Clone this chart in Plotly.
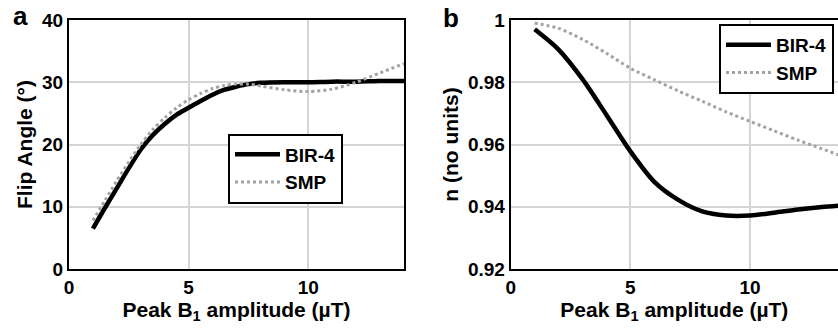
import plotly.graph_objects as go

# Panel a: flip angle vs peak B1
b1_a = [1, 1.5, 2, 2.5, 3, 3.5, 4, 4.5, 5, 5.5, 6, 6.5, 7, 7.5, 8, 9, 10, 11, 12, 13, 14]
bir4_flip = [6.5, 9.8, 13.0, 16.2, 19.2, 21.5, 23.3, 24.8, 25.9, 27.0, 28.0, 28.8, 29.3, 29.7, 29.9, 30.0, 30.0, 30.1, 30.1, 30.2, 30.2]
smp_flip = [7.8, 11.0, 14.2, 17.2, 20.0, 22.4, 24.3, 25.9, 27.2, 28.2, 29.0, 29.5, 29.7, 29.7, 29.4, 28.8, 28.5, 28.9, 30.0, 31.5, 33.0]

# Panel b: n vs peak B1
b1_b = [1, 2, 3, 4, 5, 6, 7, 8, 9, 10, 11, 12, 13, 14]
bir4_n = [0.997, 0.9905, 0.981, 0.9695, 0.9578, 0.948, 0.9422, 0.9385, 0.9372, 0.9372, 0.9381, 0.9391, 0.9399, 0.9405]
smp_n = [0.999, 0.9973, 0.9938, 0.9893, 0.9845, 0.9808, 0.9772, 0.9739, 0.9705, 0.9674, 0.9644, 0.9614, 0.9586, 0.9558]

series_names = ["BIR-4", "SMP"]
x_ticks = [0, 5, 10]
ya_ticks = [0, 10, 20, 30, 40]
yb_ticks = [0.92, 0.94, 0.96, 0.98, 1]

W, H = 838, 331
FONT = "Liberation Sans, Arial, sans-serif"

fig = go.Figure()
bir_line = dict(color="black", width=4.5)
smp_line = dict(color="#a3a3a3", width=3, dash="dot")

fig.add_trace(go.Scatter(x=b1_a, y=bir4_flip, mode="lines", name=series_names[0],
                         line=dict(**bir_line, shape="spline", smoothing=0.8), xaxis="x", yaxis="y", legend="legend"))
fig.add_trace(go.Scatter(x=b1_a, y=smp_flip, mode="lines", name=series_names[1],
                         line=dict(**smp_line, shape="spline", smoothing=0.8), xaxis="x", yaxis="y", legend="legend"))
fig.add_trace(go.Scatter(x=b1_b, y=bir4_n, mode="lines", name=series_names[0],
                         line=dict(**bir_line, shape="spline", smoothing=0.8), xaxis="x2", yaxis="y2", legend="legend2"))
fig.add_trace(go.Scatter(x=b1_b, y=smp_n, mode="lines", name=series_names[1],
                         line=dict(**smp_line, shape="spline", smoothing=0.8), xaxis="x2", yaxis="y2", legend="legend2"))

tickfont = dict(family=FONT, size=19, color="black", weight="bold")
titlefont = dict(family=FONT, size=21, color="black", weight="bold")
legfont = dict(family=FONT, size=19, color="black", weight="bold")

common_x = dict(showline=True, linecolor="black", linewidth=2, mirror=True,
                showgrid=True, gridcolor="#d4d4d4", gridwidth=1.5, zeroline=False,
                ticks="", tickfont=tickfont, tickvals=x_ticks, automargin=False,
                title=dict(text="Peak B<sub>1</sub> amplitude (µT)", font=titlefont, standoff=2))
common_y = dict(showline=True, linecolor="black", linewidth=2, automargin=False,
                showgrid=True, gridcolor="#d4d4d4", gridwidth=1.5, zeroline=False,
                ticks="", tickfont=tickfont)

T, B = 20, 62
PH = H - T - B
xa0, xa1 = 69 / W, 404 / W
xb0 = 510.7 / W
xb_range_max = (W - 510.7) / (119.7 / 5)

fig.update_layout(
    width=W, height=H,
    margin=dict(l=0, r=0, t=T, b=B),
    paper_bgcolor="white", plot_bgcolor="white",
    font=dict(family=FONT, color="black"),
    xaxis=dict(common_x, domain=[xa0, xa1], range=[0, 14], anchor="y"),
    yaxis=dict(common_y, mirror=True, domain=[0, 1], range=[0, 40], tickvals=ya_ticks, anchor="x",
               title=dict(text="Flip Angle (°)", font=titlefont, standoff=4)),
    xaxis2=dict(common_x, domain=[xb0, 1], range=[0, xb_range_max], anchor="y2"),
    yaxis2=dict(common_y, mirror=False, domain=[0, 1], range=[0.92, 1], tickvals=yb_ticks,
                anchor="x2", title=dict(text="n (no units)", font=titlefont, standoff=4)),
    legend=dict(x=228 / W, y=1 - (168.5 - T) / PH, xanchor="left", yanchor="middle",
                bgcolor="white", bordercolor="black", borderwidth=2, font=legfont,
                itemwidth=45, tracegroupgap=0),
    legend2=dict(x=719 / W, y=1 - (59 - T) / PH, xanchor="left", yanchor="middle",
                 bgcolor="white", bordercolor="black", borderwidth=2, font=legfont,
                 itemwidth=45, tracegroupgap=0),
    showlegend=True,
    annotations=[
        dict(text="a", x=20 / W, y=1 + (T - 16) / PH, xref="paper", yref="paper",
             yanchor="middle", xanchor="center", showarrow=False,
             font=dict(family=FONT, size=26, color="black", weight="bold")),
        dict(text="b", x=451 / W, y=1 + (T - 18) / PH, xref="paper", yref="paper",
             yanchor="middle", xanchor="center", showarrow=False,
             font=dict(family=FONT, size=26, color="black", weight="bold")),
    ],
)

fig.write_html("out.html", config={"displayModeBar": False},
               post_script="document.body.style.margin='0';document.body.style.overflow='hidden';")
